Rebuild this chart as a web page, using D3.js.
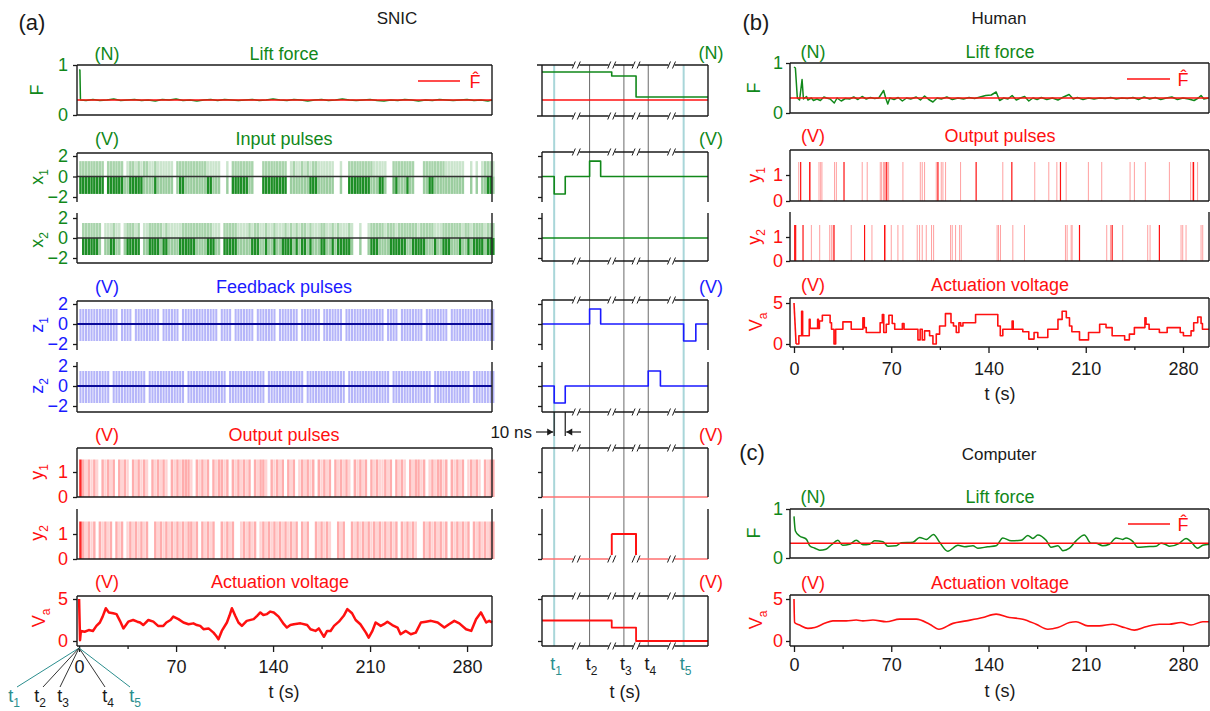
<!DOCTYPE html>
<html>
<head>
<meta charset="utf-8">
<script src="https://cdn.jsdelivr.net/npm/d3@7"></script>
<style>
  body { margin: 0; background: #fff; }
  svg { font-family: "Liberation Sans", Arial, sans-serif; }
</style>
</head>
<body>
<div id="chart"></div>
<script>

// ---------- data ----------
const tTicks = [0, 70, 140, 210, 280];
const tMinor = [35, 105, 175, 245];
const fHat = 0.3;

// (a) SNIC, lift force [t, F]
const snicF = [[0,0.9],[0.6,0.9],[1,0.3],[5,0.29],[10,0.31],[15,0.29],[20,0.3],[25,0.32],[30,0.29],[35,0.3],[40,0.31],[45,0.29],[50,0.3],[55,0.28],[60,0.31],[65,0.3],[70,0.32],[75,0.29],[80,0.3],[85,0.28],[90,0.3],[95,0.31],[100,0.29],[105,0.31],[110,0.3],[115,0.29],[120,0.3],[125,0.31],[130,0.29],[135,0.3],[140,0.32],[145,0.3],[150,0.29],[155,0.31],[160,0.3],[165,0.28],[170,0.3],[175,0.31],[180,0.29],[185,0.3],[190,0.32],[195,0.3],[200,0.29],[205,0.3],[210,0.31],[215,0.29],[220,0.28],[225,0.3],[230,0.29],[235,0.31],[240,0.3],[245,0.28],[250,0.3],[255,0.29],[260,0.31],[265,0.3],[270,0.29],[275,0.3],[280,0.31],[285,0.29],[290,0.3],[295,0.28],[298,0.3]];

// (a) SNIC, actuation voltage [t, V]
const snicVa = [[0,5],[0.7,0.1],[1.3,1.2],[4,1.1],[7,1.3],[10,1.2],[12.5,1.8],[15,2.2],[17,2.9],[19.3,3.9],[21.5,3.4],[24.6,3.3],[27,3.2],[29.5,2.4],[32,1.5],[35.5,2.3],[39,2.5],[42,2.3],[44,2.2],[46.3,1.9],[50,2.5],[53.6,2.3],[57,1.8],[60.8,1.8],[63,2.2],[66,2.5],[68,2.9],[71.7,2.6],[75.3,2.2],[79,2.0],[82.5,2.1],[85,1.9],[87.4,1.8],[89.8,1.4],[93.4,1.5],[97,1.0],[99,0.6],[100.6,0.2],[103,1.2],[106.7,2.2],[108.5,3.0],[110.3,3.9],[112.7,3.0],[115,2.2],[117.5,1.8],[121,2.4],[126,2.6],[128.5,3.0],[130.8,3.4],[133,3.1],[135.6,3.2],[138,3.5],[140.5,3.4],[144,2.9],[147.8,2.0],[150,1.6],[152.5,1.9],[155,2.0],[159.8,2.1],[164.6,1.9],[167,1.4],[170.6,1.2],[173,1.5],[176.7,0.5],[179,1.2],[181.5,1.2],[184,1.8],[187.5,2.3],[191,3.0],[193.6,3.8],[197,3.3],[199.6,2.5],[203,2.0],[207,1.0],[209,0.4],[211.7,1.2],[214,2.2],[217.7,1.8],[220,2.0],[222.5,2.3],[226,1.9],[229.8,1.6],[232,0.8],[235.8,1.2],[239.4,0.8],[243,1.0],[246.7,2.2],[250.3,2.3],[254,2.4],[258.8,2.2],[263.6,1.6],[267,2.0],[270.8,2.4],[274.4,2.1],[279.3,1.4],[283,1.2],[286.5,2.6],[290,3.4],[293.8,2.2],[296,2.4],[298,2.2]];

// (a) pulse trains, one character per 2 s bin (0 = none, 1..3 = light..dense)
const binSec = 2;
const x1Up = ["2222222220","2222220122","1212211211","1111022222","2222221111","1001022222","2220002222","2222201211","2121221111","1100100222","2222221111","1002222222","2000222222","2211111110","0101012221"].join("");
const x1Down = ["3333333330","3333331133","3331111311","1111013311","1111113311","1001033333","3110003333","3333301111","1113331111","1100100333","3333311133","1002311131","1000113311","1111111110","0101011331"].join("");
const x2Up = ["0222222201","1121101222","1201122222","1211111222","2222222211","1022222111","1212211211","2111212121","2212111221","1212111210","0100122222","1222122222","2212222211","1222222212","2122221222"].join("");
const x2Down = ["0333333101","1331101333","3301133331","3311113333","3311113331","1033333111","1133311311","3113333131","3313111331","1313333310","0100133311","1133333311","3333311131","1333111311","3133331333"].join("");
const z1Pulses = ["1111111111","1111011110","1111111110","1111110111","1111111111","0111101111","1110111111","1011111110","1111111011","1111101111","1111111111","0111101111","1111011111","1110111111","1111111111"].join("");
const z2Pulses = ["1111111111","1011111111","1111011111","1111111101","1111111111","1110111111","1111111011","1111111111","1011111111","1111110111","1111111111","1101111111","1111111011","1111111111","1011111111"].join("");
const y1Pulses = ["3212121021","2120212102","1212102121","2102121222","1021212021","2212021212","1202122102","1212021201","2121202121","2021212102","1212021211","2120212102","1221201212","2120212120","1212102122"].join("");
const y2Pulses = ["3212120212","1202120121","2121200212","1212121212","2120212120","0212120012","1212012121","2121212120","2120021212","1002120021","2121212121","2121202121","2100212121","2120212121","2021212122"].join("");

// zoomed column (a), display units: 1 unit ~ 1 ns around each event
const midTicks = [11, 43, 74, 96, 128];
const midTickNames = ["1", "2", "3", "4", "5"];
const midBreaks = [31, 63, 85, 117];
const midF = [[0,0.86],[63,0.78],[85,0.36],[150,0.36]];
const midX1 = [[0,0],[11,-1.7],[21,0],[43,1.5],[53,0],[150,0]];
const midX2 = [[0,0],[150,0]];
const midZ1 = [[0,0],[43,1.5],[53,0],[128,-1.7],[139,0],[150,0]];
const midZ2 = [[0,0],[11,-1.7],[21,0],[96,1.5],[107,0],[150,0]];
const midY1 = [[0,0],[150,0]];
const midY2 = [[0,0],[63,1],[85,0],[150,0]];
const midVa = [[0,2.44],[63,1.6],[85,0],[150,0]];

// (b) human
const humanF = [[0,0.92],[1,0.9],[2.4,0.3],[4,0.26],[5.8,0.67],[6.8,0.28],[9,0.33],[10,0.26],[12.5,0.3],[14,0.25],[16.5,0.28],[19,0.25],[21.5,0.32],[23.5,0.3],[26,0.28],[29,0.2],[31,0.3],[34,0.24],[37,0.29],[40,0.28],[43,0.32],[46,0.27],[49,0.33],[52,0.28],[55,0.31],[58,0.29],[61,0.3],[64.5,0.45],[66,0.3],[67.5,0.18],[69,0.3],[72,0.27],[75,0.31],[78,0.24],[81,0.3],[84,0.28],[88,0.32],[91,0.26],[94,0.34],[97,0.27],[100,0.22],[103,0.3],[106,0.28],[110,0.32],[114,0.27],[118,0.3],[122,0.28],[126,0.31],[130,0.29],[134,0.32],[138,0.35],[142,0.36],[145.5,0.42],[148,0.25],[151,0.3],[154,0.28],[157,0.35],[160,0.26],[163,0.3],[166,0.33],[169,0.24],[172,0.3],[175,0.27],[178,0.31],[182,0.27],[186,0.3],[190,0.26],[194,0.32],[198,0.37],[201,0.28],[204,0.31],[208,0.27],[212,0.3],[216,0.28],[220,0.3],[224,0.29],[228,0.31],[232,0.28],[236,0.3],[240,0.29],[244,0.31],[248,0.27],[252,0.32],[256,0.28],[260,0.31],[264,0.27],[268,0.3],[272,0.32],[276,0.27],[280,0.3],[284,0.28],[288,0.25],[291,0.3],[293,0.35],[295,0.28],[298.5,0.3]];
const humanY1 = [3.4,11.7,18.0,19.2,20.1,29.2,30.5,49.1,52.7,62.1,63.1,64.5,65.2,67.4,68.1,78.4,90.9,92.3,94.0,102.4,106.0,107.2,109.1,119.9,150.3,173.3,183.4,189.2,195.9,211.9,221.5,241.9,245.0,252.9,270.2,285.5,286.9,290.5];
const humanY1Dark = [4.8,11.3,36.0,66.4,103.6,131.1,156.8,191.8,287.6];
const humanY2 = [12.5,18.5,25.7,26.9,28.1,41.2,56.1,65.9,70.0,74.8,78.4,88.7,90.4,92.3,95.2,99.0,100.5,112.7,113.9,116.3,119.2,120.4,146.2,147.2,148.6,157.5,165.9,195.4,196.6,199.5,200.2,225.1,227.8,236.6,254.6,256.3,278.6,279.8,282.2,293.0,294.2];
const humanY2Dark = [0.5,1.2,6.5,28.8,50.8,65.2,205.5,229.0,263.0];
const humanVa = [[0,5],[1.5,0],[3.5,1.0],[5.5,4.0],[6.2,1.0],[11,3.0],[11.6,1.9],[17,3.0],[17.6,1.9],[18.3,2.8],[20.4,3.5],[26,2.6],[27,1.8],[28.8,0],[30,1.8],[35.2,2.7],[41.2,1.8],[49.6,3.2],[50.6,2.0],[52,1.4],[62,2.6],[63.6,3.6],[64.6,1.4],[66.4,2.4],[68.3,3.5],[70.7,2.5],[72.5,1.8],[78,2.5],[79.2,1.8],[89.2,0.5],[90.8,1.8],[92.3,0.5],[94,1.6],[97.6,1.0],[100,0],[102.4,1.2],[104.8,2.2],[109,3.7],[113,2.6],[114.8,2.2],[116.8,1.4],[118.7,2.6],[120,2.2],[121.6,2.6],[130.7,3.6],[146.7,2.2],[148.5,1.0],[150.3,1.8],[157,2.8],[157.8,1.8],[164.7,1.5],[169,0.6],[172.8,1.4],[175.5,0.8],[182.7,1.8],[190,3.0],[193,4.0],[196,3.2],[198.3,2.2],[200,1.5],[205.5,0.5],[212,1.4],[220,2.4],[224.6,2.0],[229,1.0],[238,0.5],[241.4,1.2],[245,2.0],[252.6,3.2],[253.4,2.4],[255.6,1.8],[263,1.4],[268.6,2.0],[278,1.4],[280.3,1.0],[285.8,1.6],[287.7,2.6],[290.6,3.3],[293,2.5],[294,1.8],[298.8,1.8]];

// (c) computer
const compF = [[0,0.85],[1,0.55],[4,0.45],[9,0.38],[11.3,0.25],[15,0.2],[18.5,0.16],[23,0.18],[27,0.27],[31.6,0.36],[35,0.26],[40,0.28],[44.8,0.36],[49.6,0.27],[54.4,0.28],[58,0.35],[64,0.33],[67.6,0.24],[73.6,0.25],[77.2,0.31],[85.6,0.32],[90.4,0.42],[95.2,0.38],[100.4,0.48],[104.8,0.32],[110.7,0.14],[118,0.26],[122.8,0.23],[128.8,0.25],[132.3,0.2],[139.5,0.23],[145.5,0.25],[150.3,0.41],[156.3,0.35],[163.5,0.36],[168.3,0.46],[171.9,0.4],[175.5,0.47],[181.5,0.36],[185,0.22],[190,0.25],[193.5,0.15],[198.3,0.2],[203,0.35],[209,0.47],[213.8,0.3],[217.4,0.3],[222.2,0.25],[227,0.28],[231.8,0.41],[236.6,0.38],[239,0.41],[243.8,0.34],[247.4,0.22],[253.4,0.23],[260.6,0.24],[264.2,0.3],[267.8,0.27],[270.2,0.24],[277.4,0.3],[282.2,0.4],[285.8,0.33],[290.6,0.2],[294.2,0.26],[298.8,0.28]];
const compVa = [[0,5],[0.4,2.2],[4,1.9],[10,1.5],[15,1.6],[22,2.1],[28,2.4],[37.6,2.4],[44.8,2.5],[49.6,2.4],[56.8,2.5],[66.4,2.3],[76,2.6],[88,2.6],[97.6,2.0],[104.3,1.4],[114.4,2.1],[124,2.4],[136,2.8],[145.5,3.2],[155,2.8],[164.7,2.6],[174.3,2.0],[182.7,1.4],[190,1.6],[198.3,2.2],[203,2.3],[211.5,1.8],[219.8,1.8],[229.4,2.0],[237.8,1.6],[245,1.3],[253.4,1.7],[263,2.0],[270,2.0],[278.6,2.2],[285.8,1.9],[294.2,2.3],[298.8,2.3]];

// ---------- styles ----------
const GREEN = "#11881a", RED = "#ff1010", BLUE = "#1a1aff", DARKBLUE = "#0a0a9a";
const TEAL = "#2b8e8e", TEALLINE = "#a9d6d9", INK = "#1a1a1a";

const svg = d3.select("#chart").append("svg")
	.attr("width", 1210)
	.attr("height", 711);

function label(x, y, s, color, size, anchor) {
	return svg.append("text")
		.attr("x", x).attr("y", y)
		.attr("fill", color || INK)
		.attr("text-anchor", anchor || "middle")
		.style("font-size", (size || 17) + "px")
		.text(s);
}

// rotated y-axis label with optional subscript
function yLabel(x, yc, main, sub, color) {
	let t = svg.append("text")
		.attr("transform", `translate(${x},${yc}) rotate(-90)`)
		.attr("text-anchor", "middle")
		.attr("fill", color)
		.style("font-size", "18px");
	t.append("tspan").text(main);
	if (sub) t.append("tspan").attr("dy", 5).style("font-size", "12px").text(sub);
}

function seg(x1, y1, x2, y2, color, w) {
	svg.append("line")
		.attr("x1", x1).attr("y1", y1).attr("x2", x2).attr("y2", y2)
		.attr("stroke", color || INK)
		.attr("stroke-width", w || 1.4);
}

function yAxis(x, y, ticks, color, showLabels, pad) {
	let ax = d3.axisLeft(y).tickValues(ticks).tickSize(4).tickSizeOuter(0).tickPadding(pad)
		.tickFormat(showLabels ? d3.format("d") : "");
	let g = svg.append("g").attr("transform", `translate(${x},0)`).call(ax);
	g.select(".domain").remove();
	g.selectAll("line").attr("stroke", INK).attr("stroke-width", 1.3);
	g.selectAll("text").attr("fill", color).style("font-size", "18px")
		.style("font-family", '"Liberation Sans", Arial, sans-serif');
}

function tAxis(x, yPos, pad) {
	let g = svg.append("g").attr("transform", `translate(0,${yPos})`)
		.call(d3.axisBottom(x).tickValues(tTicks).tickSize(6).tickSizeOuter(0).tickPadding(pad));
	g.select(".domain").remove();
	g.selectAll("line").attr("stroke", INK).attr("stroke-width", 1.3);
	g.selectAll("text").attr("fill", INK).style("font-size", "18px")
		.style("font-family", '"Liberation Sans", Arial, sans-serif');
	let m = svg.append("g").attr("transform", `translate(0,${yPos})`)
		.call(d3.axisBottom(x).tickValues(tMinor).tickSize(3).tickFormat(""));
	m.select(".domain").remove();
	m.selectAll("line").attr("stroke", INK).attr("stroke-width", 1.3);
}

function trace(data, x, y, color, w, curve) {
	svg.append("path")
		.datum(data)
		.attr("fill", "none")
		.attr("stroke", color)
		.attr("stroke-width", w)
		.attr("stroke-linejoin", "round")
		.attr("d", d3.line().x(d => x(d[0])).y(d => y(d[1])).curve(curve || d3.curveLinear));
}

// one coloured bar per 2 s bin, opacity by level
function barcode(code, x, y, v0, v1, color, opac, frac) {
	let bins = code.split("").map((c, i) => ({ t: i * binSec, lv: +c })).filter(d => d.lv > 0);
	let w = (x(binSec) - x(0)) * frac;
	svg.append("g").selectAll("rect")
		.data(bins)
		.enter()
		.append("rect")
		.attr("x", d => x(d.t + binSec * (1 - frac) / 2))
		.attr("width", w)
		.attr("y", y(Math.max(v0, v1)))
		.attr("height", Math.abs(y(v0) - y(v1)))
		.attr("fill", color)
		.attr("opacity", d => opac[d.lv]);
}

function spikes(times, x, y, top, color, w) {
	svg.append("g").selectAll("line")
		.data(times)
		.enter()
		.append("line")
		.attr("x1", d => x(d)).attr("x2", d => x(d))
		.attr("y1", y(0)).attr("y2", y(top))
		.attr("stroke", color)
		.attr("stroke-width", w);
}

function axisBreak(x, y) {
	svg.append("rect").attr("x", x - 3).attr("y", y - 4).attr("width", 6).attr("height", 8).attr("fill", "#fff");
	svg.append("path")
		.attr("d", `M${x - 4},${y + 3.5} L${x - 1},${y - 3.5} M${x + 1},${y + 3.5} L${x + 4},${y - 3.5}`)
		.attr("stroke", INK).attr("stroke-width", 1).attr("fill", "none");
}

// ---------- scales ----------
const xA = d3.scaleLinear().domain([-1.5, 298]).range([77, 492]);
const xM = d3.scaleLinear().domain([0, 150]).range([542, 708]);
const xR = d3.scaleLinear().domain([0, 280]).range([794, 1183]);

const yF_a = d3.scaleLinear().domain([0, 1]).range([115, 65]);
const yX1 = d3.scaleLinear().domain([-2, 2]).range([197, 156]);
const yX2 = d3.scaleLinear().domain([-2, 2]).range([258, 218]);
const yZ1 = d3.scaleLinear().domain([-2, 2]).range([344, 304]);
const yZ2 = d3.scaleLinear().domain([-2, 2]).range([406, 366]);
const yY1 = d3.scaleLinear().domain([0, 1]).range([497, 472]);
const yY2 = d3.scaleLinear().domain([0, 1]).range([559, 534]);
const yVa = d3.scaleLinear().domain([0, 5]).range([641, 599]);

const yF_b = d3.scaleLinear().domain([0, 1]).range([113, 63]);
const yY1_b = d3.scaleLinear().domain([0, 1]).range([201, 175]);
const yY2_b = d3.scaleLinear().domain([0, 1]).range([261, 237]);
const yVa_b = d3.scaleLinear().domain([0, 5]).range([344, 303]);
const yF_c = d3.scaleLinear().domain([0, 1]).range([558, 509]);
const yVa_c = d3.scaleLinear().domain([0, 5]).range([641, 599]);

// ---------- (a) left column ----------
label(32, 30, "(a)", INK, 22);
label(397, 24, "SNIC", INK, 17);

const L = xA.range()[0], R = xA.range()[1];

// lift force
label(107, 60, "(N)", GREEN, 18);
label(284, 60, "Lift force", GREEN, 18);
trace(snicF, xA, yF_a, GREEN, 1.5);
seg(L, yF_a(fHat), R, yF_a(fHat), RED, 1.5);
seg(418, 81, 460, 81, RED, 1.5);
label(475, 88, "F\u0302", RED, 18);
[[L, 65, R, 65], [L, 115, R, 115], [L, 65, L, 115], [R, 65, R, 115]].forEach(s => seg(...s));
yAxis(L, yF_a, [0, 1], GREEN, true, 5);
yLabel(43, 90, "F", null, GREEN);

// input pulses
label(107, 145, "(V)", GREEN, 18);
label(284, 145, "Input pulses", GREEN, 18);
barcode(x1Up, xA, yX1, 0, 1.5, GREEN, { 1: 0.22, 2: 0.36, 3: 0.7 }, 0.88);
barcode(x1Down, xA, yX1, 0, -1.7, GREEN, { 1: 0.42, 2: 0.62, 3: 0.95 }, 0.88);
barcode(x2Up, xA, yX2, 0, 1.5, GREEN, { 1: 0.22, 2: 0.36, 3: 0.7 }, 0.88);
barcode(x2Down, xA, yX2, 0, -1.7, GREEN, { 1: 0.42, 2: 0.62, 3: 0.95 }, 0.88);
seg(L, yX1(0), R, yX1(0), "#333", 1.4);
seg(L, yX2(0), R, yX2(0), "#333", 1.4);
[[L, 153, R, 153], [L, 153, L, 202], [R, 153, R, 202], [L, 213, L, 263], [R, 213, R, 263], [L, 263, R, 263]].forEach(s => seg(...s));
yAxis(L, yX1, [-2, 0, 2], GREEN, true, 5);
yAxis(L, yX2, [-2, 0, 2], GREEN, true, 5);
yLabel(43, 177, "x", "1", GREEN);
yLabel(43, 240, "x", "2", GREEN);

// feedback pulses
label(107, 293, "(V)", BLUE, 18);
label(284, 293, "Feedback pulses", BLUE, 18);
barcode(z1Pulses, xA, yZ1, -1.7, 1.5, "#a3a3f7", { 1: 0.8 }, 0.75);
barcode(z2Pulses, xA, yZ2, -1.7, 1.5, "#a3a3f7", { 1: 0.8 }, 0.75);
seg(L, yZ1(0), R, yZ1(0), DARKBLUE, 2.2);
seg(L, yZ2(0), R, yZ2(0), DARKBLUE, 2.2);
[[L, 301, R, 301], [L, 301, L, 350], [R, 301, R, 350], [L, 362, L, 412], [R, 362, R, 412], [L, 412, R, 412]].forEach(s => seg(...s));
yAxis(L, yZ1, [-2, 0, 2], BLUE, true, 5);
yAxis(L, yZ2, [-2, 0, 2], BLUE, true, 5);
yLabel(43, 325, "z", "1", BLUE);
yLabel(43, 386, "z", "2", BLUE);

// output pulses
label(107, 441, "(V)", RED, 18);
label(284, 441, "Output pulses", RED, 18);
barcode(y1Pulses, xA, yY1, 0, 1.5, RED, { 1: 0.18, 2: 0.34, 3: 0.9 }, 0.88);
barcode(y2Pulses, xA, yY2, 0, 1.5, RED, { 1: 0.18, 2: 0.34, 3: 0.9 }, 0.88);
[[L, 448, R, 448], [L, 448, L, 497], [R, 448, R, 497], [L, 497, R, 497], [L, 509, L, 559], [R, 509, R, 559], [L, 559, R, 559]].forEach(s => seg(...s));
yAxis(L, yY1, [0, 1], RED, true, 5);
yAxis(L, yY2, [0, 1], RED, true, 5);
yLabel(43, 472, "y", "1", RED);
yLabel(43, 533, "y", "2", RED);

// actuation voltage
label(107, 588, "(V)", RED, 18);
label(280, 588, "Actuation voltage", RED, 18);
trace(snicVa, xA, yVa, RED, 2.5);
[[L, 596, R, 596], [L, 646, R, 646], [L, 596, L, 646], [R, 596, R, 646]].forEach(s => seg(...s));
yAxis(L, yVa, [0, 5], RED, true, 5);
yLabel(45, 618, "V", "a", RED);
tAxis(xA, 646, 8);
label(284, 698, "t (s)", INK, 18);

// fan linking t=0 to the zoomed events
const fanEnds = [[17, TEAL], [43, INK], [60, INK], [105, INK], [130, TEAL]];
const fanText = [14, 40, 63, 108, 135];
fanEnds.forEach((d, i) => {
	seg(xA(0), 648, d[0], 687, d[1] === TEAL ? TEAL : "#333", 1);
	let t = svg.append("text").attr("x", fanText[i]).attr("y", 702)
		.attr("text-anchor", "middle").attr("fill", d[1]).style("font-size", "18px");
	t.append("tspan").text("t");
	t.append("tspan").attr("dy", 5).style("font-size", "12px").text(midTickNames[i]);
});

// ---------- (a) zoomed column ----------
const ML = xM.range()[0], MR = xM.range()[1];
midTicks.forEach((d, i) => {
	let teal = (i === 0 || i === 4);
	seg(xM(d), 65, xM(d), 646, teal ? TEALLINE : "#6a6a6a", teal ? 2 : 1);
});

label(711, 59, "(N)", GREEN, 18);
trace(midF, xM, yF_a, GREEN, 1.6, d3.curveStepAfter);
seg(ML, yF_a(fHat), MR, yF_a(fHat), RED, 1.6);
[[ML - 5, 65, MR, 65], [ML - 5, 116, MR, 116], [ML, 65, ML, 116], [MR, 65, MR, 116]].forEach(s => seg(...s));

label(711, 145, "(V)", GREEN, 18);
trace(midX1, xM, yX1, GREEN, 1.6, d3.curveStepAfter);
trace(midX2, xM, yX2, GREEN, 1.6, d3.curveStepAfter);
[[ML, 152, MR, 152], [ML, 152, ML, 202], [MR, 152, MR, 202], [ML, 213, ML, 261], [MR, 213, MR, 261], [ML, 261, MR, 261]].forEach(s => seg(...s));
yAxis(ML, yX1, [-2, 0, 2], GREEN, false, 5);
yAxis(ML, yX2, [-2, 0, 2], GREEN, false, 5);

label(711, 293, "(V)", BLUE, 18);
trace(midZ1, xM, yZ1, BLUE, 1.6, d3.curveStepAfter);
trace(midZ2, xM, yZ2, BLUE, 1.6, d3.curveStepAfter);
[[ML, 300, MR, 300], [ML, 300, ML, 350], [MR, 300, MR, 350], [ML, 362, ML, 412], [MR, 362, MR, 412], [ML, 412, MR, 412]].forEach(s => seg(...s));
yAxis(ML, yZ1, [-2, 0, 2], BLUE, false, 5);
yAxis(ML, yZ2, [-2, 0, 2], BLUE, false, 5);

// 10 ns marker
seg(xM(midTicks[0]), 412, xM(midTicks[0]), 436, INK, 1.2);
seg(xM(midTicks[0] + 10), 412, xM(midTicks[0] + 10), 436, INK, 1.2);
seg(536, 432, xM(midTicks[0]) - 1, 432, INK, 1.2);
seg(xM(midTicks[0] + 10) + 1, 432, 581, 432, INK, 1.2);
svg.append("path").attr("d", `M${xM(midTicks[0]) - 1},432 l-6,-3.5 l0,7 z`).attr("fill", INK);
svg.append("path").attr("d", `M${xM(midTicks[0] + 10) + 1},432 l6,-3.5 l0,7 z`).attr("fill", INK);
label(532, 438, "10 ns", INK, 17, "end");

label(711, 441, "(V)", RED, 18);
trace(midY1, xM, yY1, "#ff7070", 1.4, d3.curveStepAfter);
trace(midY2, xM, yY2, "#ff7070", 1.4, d3.curveStepAfter);
trace(midY2.slice(1, 3), xM, yY2, RED, 1.8, d3.curveStepAfter);
seg(xM(63), yY2(0), xM(63), yY2(1), RED, 1.8);
seg(xM(85), yY2(0), xM(85), yY2(1), RED, 1.8);
[[ML, 448, MR, 448], [ML, 448, ML, 497], [MR, 448, MR, 497], [ML, 509, ML, 559], [MR, 509, MR, 559]].forEach(s => seg(...s));
yAxis(ML, yY1, [0, 1], RED, false, 5);
yAxis(ML, yY2, [0, 1], RED, false, 5);

label(711, 588, "(V)", RED, 18);
trace(midVa, xM, yVa, RED, 1.8, d3.curveStepAfter);
[[ML, 596, MR, 596], [ML, 646, MR, 646], [ML, 596, ML, 646], [MR, 596, MR, 646]].forEach(s => seg(...s));
yAxis(ML, yVa, [0, 5], RED, false, 5);

[65, 116, 152, 261, 300, 412, 448, 559, 596, 646].forEach(yb => midBreaks.forEach(b => axisBreak(xM(b), yb)));

midTicks.forEach((d, i) => {
	let teal = (i === 0 || i === 4);
	let t = svg.append("text").attr("x", xM(d) + 2).attr("y", 670)
		.attr("text-anchor", "middle").attr("fill", teal ? TEAL : INK).style("font-size", "18px");
	t.append("tspan").text("t");
	t.append("tspan").attr("dy", 5).style("font-size", "12px").text(midTickNames[i]);
});
label(625, 698, "t (s)", INK, 18);

// ---------- (b) human ----------
const RL = 790, RR = 1209;
label(756, 30, "(b)", INK, 22);
label(999, 24, "Human", INK, 17);

label(813, 58, "(N)", GREEN, 18);
label(1000, 58, "Lift force", GREEN, 18);
trace(humanF, xR, yF_b, GREEN, 1.5);
seg(RL, yF_b(fHat), RR, yF_b(fHat), RED, 1.5);
seg(1127, 79, 1170, 79, RED, 1.5);
label(1183, 86, "F\u0302", RED, 18);
[[RL, 63, RR, 63], [RL, 113, RR, 113], [RL, 63, RL, 113], [RR, 63, RR, 113]].forEach(s => seg(...s));
yAxis(RL, yF_b, [0, 1], GREEN, true, 3);
yLabel(760, 88, "F", null, GREEN);

label(813, 142, "(V)", RED, 18);
label(1000, 142, "Output pulses", RED, 18);
spikes(humanY1, xR, yY1_b, 1.5, "#ffa0a0", 1);
spikes(humanY1Dark, xR, yY1_b, 1.5, RED, 1.2);
spikes(humanY2, xR, yY2_b, 1.5, "#ffa0a0", 1);
spikes(humanY2Dark, xR, yY2_b, 1.5, RED, 1.2);
[[RL, 150, RR, 150], [RL, 150, RL, 201], [RR, 150, RR, 201], [RL, 201, RR, 201], [RL, 212, RL, 261], [RR, 212, RR, 261], [RL, 261, RR, 261]].forEach(s => seg(...s));
yAxis(RL, yY1_b, [0, 1], RED, true, 3);
yAxis(RL, yY2_b, [0, 1], RED, true, 3);
yLabel(760, 175, "y", "1", RED);
yLabel(760, 237, "y", "2", RED);

label(813, 291, "(V)", RED, 18);
label(1000, 291, "Actuation voltage", RED, 18);
trace(humanVa.slice(0, 2), xR, yVa_b, RED, 1.6);
trace(humanVa.slice(1), xR, yVa_b, RED, 1.6, d3.curveStepAfter);
[[RL, 298, RR, 298], [RL, 347, RR, 347], [RL, 298, RL, 347], [RR, 298, RR, 347]].forEach(s => seg(...s));
yAxis(RL, yVa_b, [0, 5], RED, true, 3);
yLabel(762, 322, "V", "a", RED);
tAxis(xR, 347, 9);
label(1000, 400, "t (s)", INK, 18);

// ---------- (c) computer ----------
label(752, 460, "(c)", INK, 22);
label(999, 460, "Computer", INK, 17);

label(813, 503, "(N)", GREEN, 18);
label(1000, 503, "Lift force", GREEN, 18);
trace(compF, xR, yF_c, GREEN, 1.5, d3.curveMonotoneX);
seg(RL, yF_c(fHat), RR, yF_c(fHat), RED, 1.5);
seg(1128, 524, 1170, 524, RED, 1.5);
label(1183, 531, "F\u0302", RED, 18);
[[RL, 509, RR, 509], [RL, 558, RR, 558], [RL, 509, RL, 558], [RR, 509, RR, 558]].forEach(s => seg(...s));
yAxis(RL, yF_c, [0, 1], GREEN, true, 3);
yLabel(760, 533, "F", null, GREEN);

label(813, 589, "(V)", RED, 18);
label(1000, 589, "Actuation voltage", RED, 18);
trace(compVa, xR, yVa_c, RED, 1.6, d3.curveMonotoneX);
[[RL, 595, RR, 595], [RL, 646, RR, 646], [RL, 595, RL, 646], [RR, 595, RR, 646]].forEach(s => seg(...s));
yAxis(RL, yVa_c, [0, 5], RED, true, 3);
yLabel(762, 620, "V", "a", RED);
tAxis(xR, 646, 6);
label(1000, 697, "t (s)", INK, 18);

</script>
</body>
</html>
